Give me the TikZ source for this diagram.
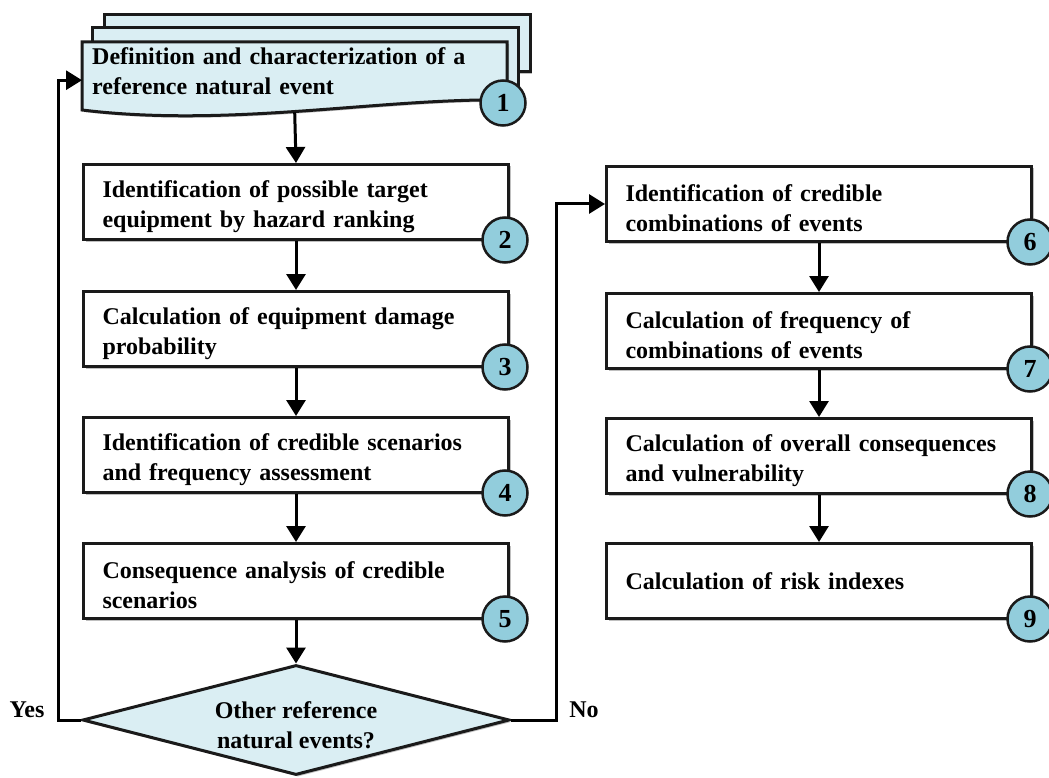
\documentclass[tikz,border=0pt]{standalone}
\usepackage{fontspec}
\setmainfont{Liberation Serif}
\usetikzlibrary{shapes.geometric,arrows.meta,shadows}
\definecolor{lblue}{HTML}{DAEEF3}
\definecolor{cblue}{HTML}{92CDDC}
\definecolor{ink}{HTML}{1A1A1A}
\begin{document}
\begin{tikzpicture}[x=1pt,y=-1pt,
  shd/.style={drop shadow={shadow xshift=2pt,shadow yshift=-2pt,opacity=0.25,fill=black}},
  stepbase/.style={draw=ink,line width=3pt,fill=white,minimum width=425pt,minimum height=75pt,
    text width=387pt,inner xsep=19pt,inner ysep=0pt,align=left,anchor=north west,
    font=\bfseries\fontsize{24}{30}\selectfont,shd},
  stepbox/.style={stepbase,execute at begin node={\rule{0pt}{26pt}}},
  docback/.style={draw=ink,line width=3pt,fill=lblue,shd},
  num/.style={circle,draw=ink,line width=2.5pt,fill=cblue,minimum size=45pt,inner sep=0pt,
    font=\bfseries\fontsize{26}{26}\selectfont},
  dia/.style={diamond,aspect=3.9,draw=ink,line width=3pt,fill=lblue,minimum width=427pt,
    minimum height=110pt,inner sep=0pt,align=center,font=\bfseries\fontsize{24}{30}\selectfont,shd},
  lbl/.style={font=\bfseries\fontsize{24}{28}\selectfont,inner sep=0pt},
  arr/.style={draw=black,line width=3pt,-{Triangle[length=16pt,width=19pt]}}]
\useasboundingbox (0,0) rectangle (1049,778);
% document stack
\draw[docback] (104,15) rectangle (530,72);
\draw[docback] (92,28) rectangle (518,88);
\draw[docback] (82,42) -- (507,42) -- (507,100) .. controls (380,98) and (230,128) .. (82,110) -- cycle;
\node[anchor=north west,minimum width=425pt,minimum height=70pt,text width=405pt,inner xsep=10pt,inner ysep=0pt,
  align=left,font=\bfseries\fontsize{24}{30}\selectfont] (b1) at (82,42)
  {Definition and characterization of a\\reference natural event\rule[-13pt]{0pt}{13pt}};
% left column
\node[stepbox] (b2) at (82,163) {Identification of possible target\\equipment by hazard ranking};
\node[stepbox] (b3) at (82,290) {Calculation of equipment damage\\probability};
\node[stepbox] (b4) at (82,416) {Identification of credible scenarios\\and frequency assessment};
\node[stepbox] (b5) at (82,542) {Consequence analysis of credible\\scenarios};
% right column
\node[stepbox] (b6) at (605,165) {Identification of credible\\combinations of events};
\node[stepbox] (b7) at (605,292) {Calculation of frequency of\\combinations of events};
\node[stepbox] (b8) at (605,417) {Calculation of overall consequences\\and vulnerability};
\node[stepbase] (b9) at (605,542) {Calculation of risk indexes};
% decision
\node[dia] (d) at (296,720) {\rule{0pt}{28pt}Other reference\\natural events?};
\node[lbl] (yes) at (27,710) {Yes};
\node[lbl] (no) at (584,710) {No};
% connectors
\draw[arr] (b1.south) -- (b2.north);
\draw[arr] (b2.south) -- (b3.north);
\draw[arr] (b3.south) -- (b4.north);
\draw[arr] (b4.south) -- (b5.north);
\draw[arr] (b5.south) -- (d.north);
\draw[arr] (b6.south) -- (b7.north);
\draw[arr] (b7.south) -- (b8.north);
\draw[arr] (b8.south) -- (b9.north);
\draw[arr] (d.west) -- ++(-23,0) |- ([yshift=-3pt]b1.west);
\draw[arr] (d.east) -- ++(45,0) |- (b6.west);
% numbers
\node[num] (n1) at (503,103) {1};
\node[num] (n2) at (505,240) {2};
\node[num] (n3) at (505,367) {3};
\node[num] (n4) at (505,493) {4};
\node[num] (n5) at (505,619) {5};
\node[num] (n6) at (1030,242) {6};
\node[num] (n7) at (1030,369) {7};
\node[num] (n8) at (1030,494) {8};
\node[num] (n9) at (1030,619) {9};
\end{tikzpicture}
\end{document}
